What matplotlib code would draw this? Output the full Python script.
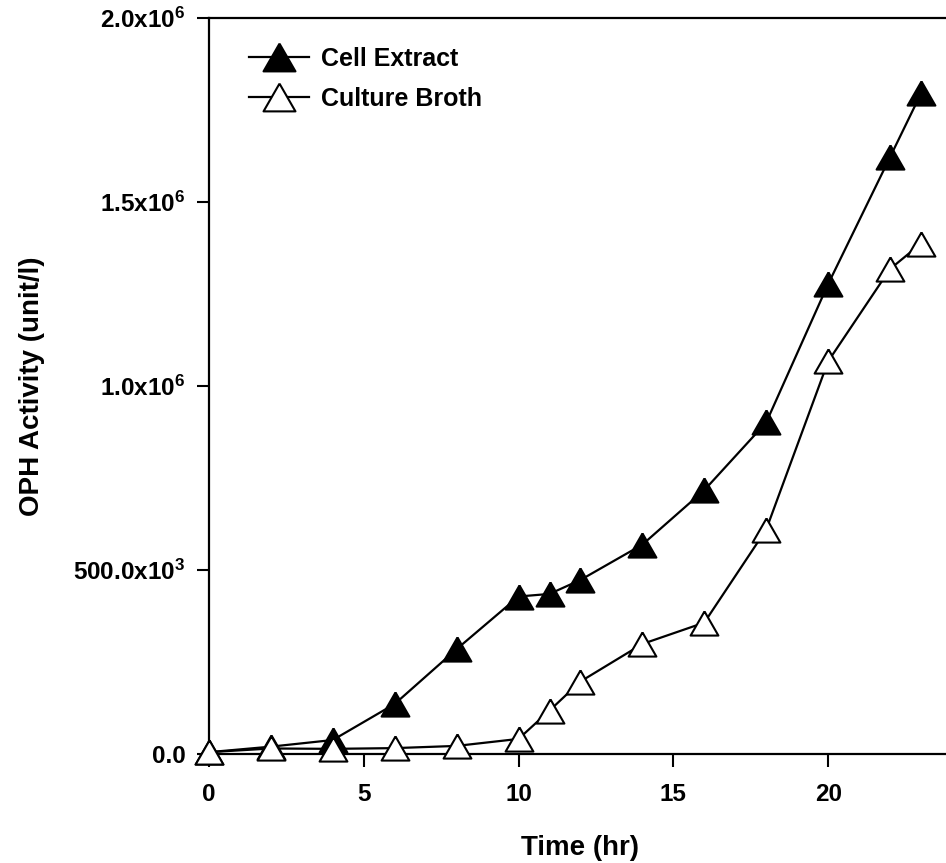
import numpy as np
import matplotlib.pyplot as plt
from matplotlib.ticker import FixedLocator

plt.rcParams["font.family"] = ["Liberation Sans", "DejaVu Sans"]
plt.rcParams["font.weight"] = "bold"
plt.rcParams["mathtext.fontset"] = "custom"
plt.rcParams["mathtext.rm"] = "Liberation Sans:bold"
plt.rcParams["mathtext.it"] = "Liberation Sans:bold"
plt.rcParams["mathtext.bf"] = "Liberation Sans:bold"

# sampling times (hr)
time_hr = [0, 2, 4, 6, 8, 10, 11, 12, 14, 16, 18, 20, 22, 23]

# OPH activity (unit/l)
cell_extract = [5e3, 20e3, 38e3, 136e3, 285e3, 428e3, 435e3, 473e3,
                569e3, 717e3, 901e3, 1277e3, 1622e3, 1795e3]
culture_broth = [5e3, 15e3, 14e3, 16e3, 22e3, 41e3, 118e3, 197e3,
                 299e3, 357e3, 610e3, 1067e3, 1318e3, 1387e3]

x_ticks = [0, 5, 10, 15, 20]
y_ticks = [0, 0.5e6, 1.0e6, 1.5e6, 2.0e6]
y_tick_labels = ["0.0", "500.0x10$^{3}$", "1.0x10$^{6}$",
                 "1.5x10$^{6}$", "2.0x10$^{6}$"]

# wider-than-tall triangle, like the plotting program's symbols
tri = [(0, 1), (-1.15, -1), (1.15, -1), (0, 1)]

fig = plt.figure(figsize=(9.46, 8.63), dpi=100)
ax = fig.add_axes([0.2209, 0.1263, 0.7854, 0.8528])

ax.plot(time_hr, cell_extract, color="black", lw=1.6, marker=tri, ms=20,
        mfc="black", mec="black", mew=1.5, clip_on=False, zorder=3,
        label="Cell Extract")
ax.plot(time_hr, culture_broth, color="black", lw=1.6, marker=tri, ms=20,
        mfc="white", mec="black", mew=1.5, clip_on=False, zorder=4,
        label="Culture Broth")

ax.set_xlim(0, 24)
ax.set_ylim(0, 2.0e6)
ax.xaxis.set_major_locator(FixedLocator(x_ticks))
ax.set_xticklabels([str(t) for t in x_ticks])
ax.yaxis.set_major_locator(FixedLocator(y_ticks))
ax.set_yticklabels(y_tick_labels)

for side in ["left", "bottom", "top", "right"]:
    ax.spines[side].set_linewidth(1.6)
ax.tick_params(direction="out", length=9, width=1.5, labelsize=17.5,
               pad=8)
ax.tick_params(axis="x", pad=12)

ax.set_xlabel("Time (hr)", fontsize=20, fontweight="bold", labelpad=21)
ax.set_ylabel("OPH Activity (unit/l)", fontsize=20, fontweight="bold",
              labelpad=20)

ax.legend(loc="upper left", bbox_to_anchor=(0.03, 0.985), frameon=False,
          fontsize=18, handlelength=2.4, handletextpad=0.5,
          labelspacing=0.65, borderaxespad=0.3, markerscale=1.15)

fig.savefig("out.png", dpi=100)
